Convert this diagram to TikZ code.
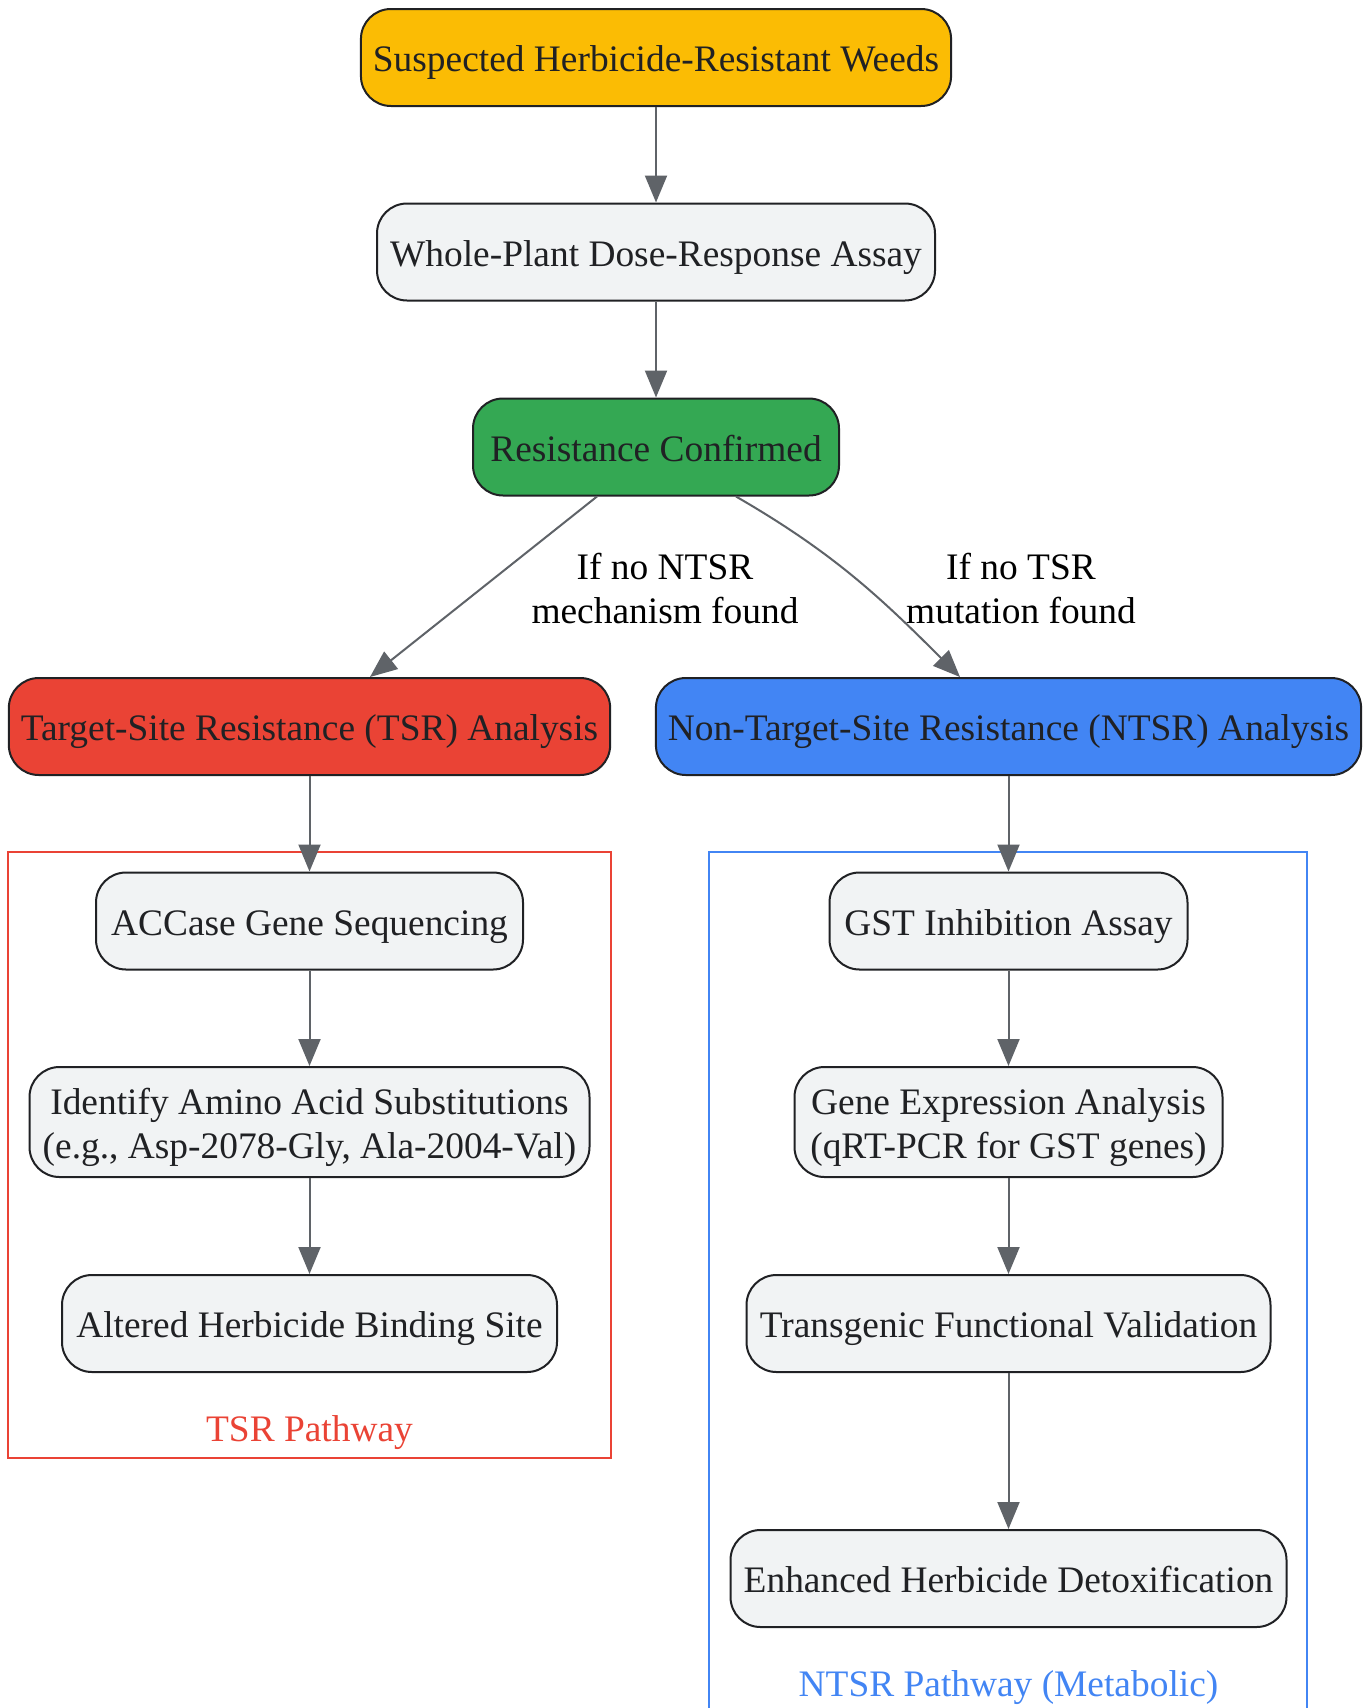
\documentclass[tikz,border=0pt]{standalone}
\usepackage{fontspec}
\setmainfont{Liberation Serif}
\usepackage{tikz}
\usetikzlibrary{arrows.meta}

\definecolor{weedyellow}{HTML}{FBBC04}
\definecolor{confgreen}{HTML}{34A853}
\definecolor{tsrred}{HTML}{EA4335}
\definecolor{ntsrblue}{HTML}{4285F4}
\definecolor{stepgray}{HTML}{F1F3F4}
\definecolor{edgegray}{HTML}{5F6368}
\definecolor{inkdark}{HTML}{202124}

\tikzset{
  box/.style={draw=inkdark, line width=1pt, rounded corners=15pt, text=inkdark, align=center,
    minimum height=48.5pt, inner xsep=6pt, text height=14pt, text depth=0pt,
    font=\fontsize{18.7pt}{22pt}\selectfont},
  stepbox/.style={box, fill=stepgray},
  twoline/.style={minimum height=55pt, text height=36pt},
  flow/.style={-{Triangle[length=13.5pt,width=11pt]}, edgegray, line width=1pt},
  edgetext/.style={align=center, text=black, font=\fontsize{18.7pt}{22pt}\selectfont},
}

\begin{document}
\begin{tikzpicture}[x=0.5pt, y=-0.5pt]
\useasboundingbox [fill=white] (0,0) rectangle (1367,1708);

\draw [tsrred, line width=1pt] (8,852) rectangle (611,1458);
\draw [ntsrblue, line width=1pt] (709,1720) -- (709,852) -- (1307,852) -- (1307,1720);

\node [box, fill=weedyellow, minimum width=294.5pt] (weeds) at (656,57.5) {Suspected Herbicide-Resistant Weeds};
\node [stepbox, minimum width=279pt] (dose) at (656,252) {Whole-Plant Dose-Response Assay};
\node [box, fill=confgreen, minimum width=183pt] (confirmed) at (656,447) {Resistance Confirmed};
\node [box, fill=tsrred, minimum width=300.5pt] (tsr) at (309.5,726.5) {Target-Site Resistance (TSR) Analysis};
\node [box, fill=ntsrblue, minimum width=350.5pt] (ntsr) at (1008.5,726.5) {Non-Target-Site Resistance (NTSR) Analysis};

\node [stepbox, minimum width=213.5pt] (accase) at (309.5,921) {ACCase Gene Sequencing};
\node [stepbox, twoline, minimum width=280pt] (subst) at (309.5,1122) {Identify Amino Acid Substitutions\\(e.g., Asp-2078-Gly, Ala-2004-Val)};
\node [stepbox, minimum width=247.5pt] (binding) at (309.5,1323.5) {Altered Herbicide Binding Site};
\node [edgetext, text=tsrred] (tsrlabel) at (309.5,1432.5) {TSR Pathway};

\node [stepbox, minimum width=179pt] (gst) at (1008.5,921) {GST Inhibition Assay};
\node [stepbox, twoline, minimum width=214pt] (qpcr) at (1008.5,1122) {Gene Expression Analysis\\(qRT-PCR for GST genes)};
\node [stepbox, minimum width=262pt] (transgenic) at (1008.5,1323.5) {Transgenic Functional Validation};
\node [stepbox, minimum width=278pt] (detox) at (1008.5,1578.5) {Enhanced Herbicide Detoxification};
\node [edgetext, text=ntsrblue] (ntsrlabel) at (1008.5,1687.5) {NTSR Pathway (Metabolic)};

\draw [flow] (weeds) -- (dose);
\draw [flow] (dose) -- (confirmed);
\draw [flow] ([xshift=-29.5pt]confirmed.south) -- ([xshift=30.25pt]tsr.north);
\draw [flow] ([xshift=40pt]confirmed.south) to [out=-30, in=135] ([xshift=-24.25pt]ntsr.north);
\node [edgetext] (ntsrnote) at (665,589) {If no NTSR\\mechanism found};
\node [edgetext] (tsrnote) at (1021,589) {If no TSR\\mutation found};

\draw [flow] (tsr) -- (accase);
\draw [flow] (accase) -- (subst);
\draw [flow] (subst) -- (binding);
\draw [flow] (ntsr) -- (gst);
\draw [flow] (gst) -- (qpcr);
\draw [flow] (qpcr) -- (transgenic);
\draw [flow] (transgenic) -- (detox);
\end{tikzpicture}
\end{document}
